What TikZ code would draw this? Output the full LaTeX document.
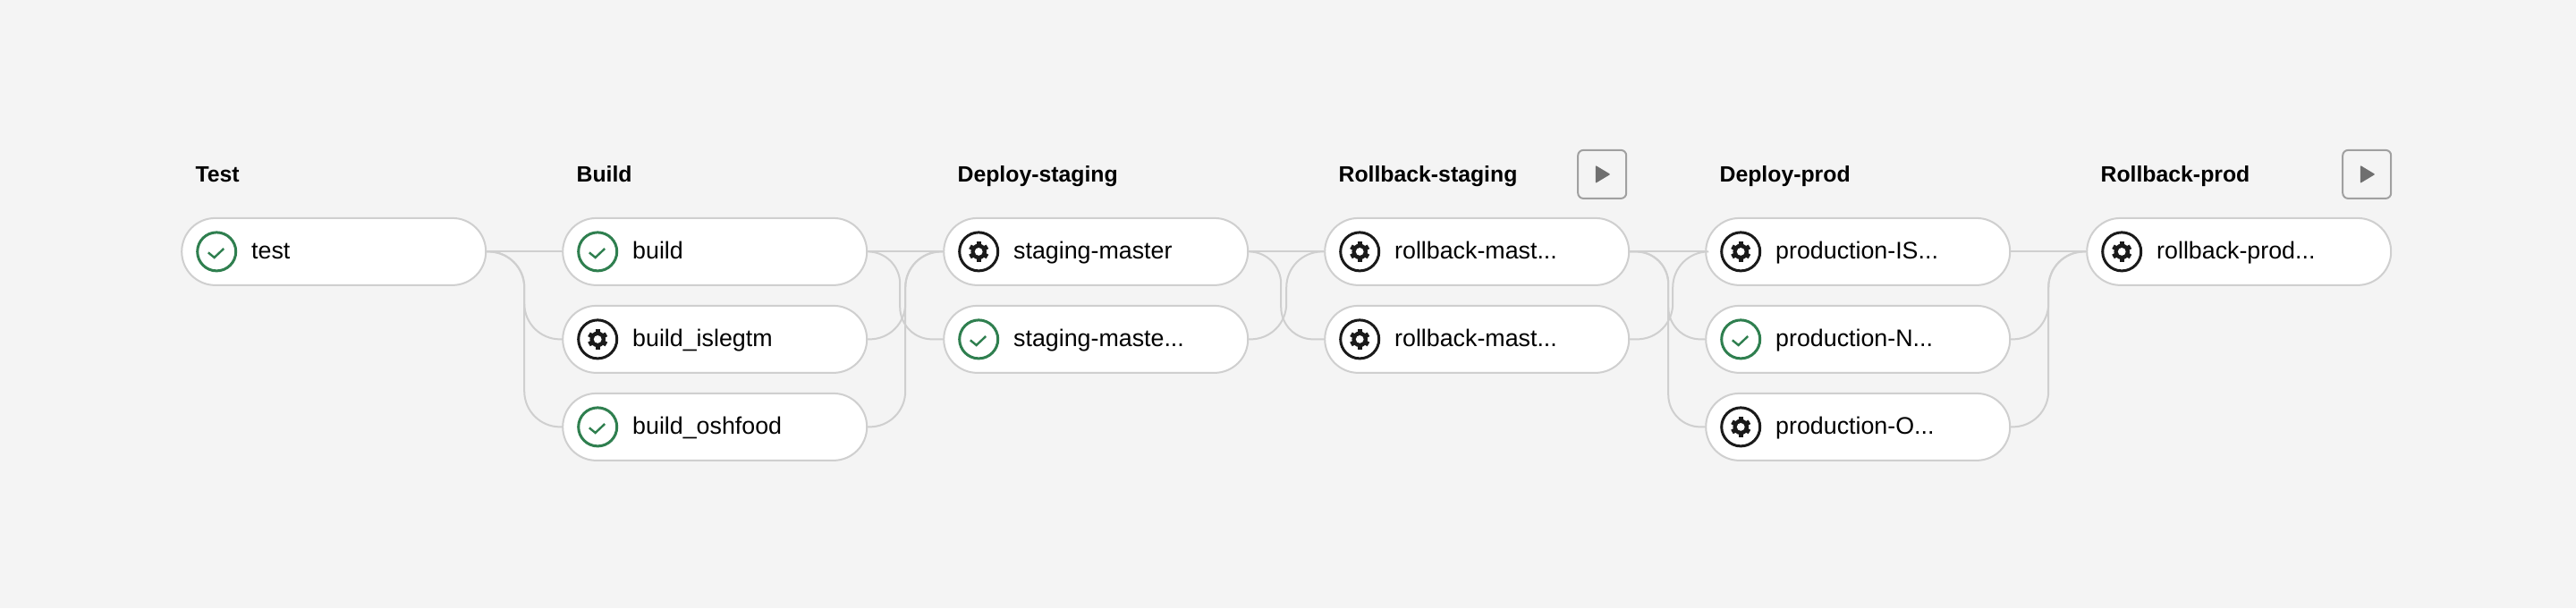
\documentclass[tikz,border=0pt]{standalone}
\usepackage{fontspec}
\setmainfont{Liberation Sans}
\usetikzlibrary{positioning}
\definecolor{pagebg}{HTML}{F4F4F4}
\definecolor{linegray}{HTML}{CFCFCF}
\definecolor{passgreen}{HTML}{2F7F4F}
\definecolor{rundark}{HTML}{1A1A1A}
\definecolor{playgray}{HTML}{6F6F6F}
\definecolor{boxgray}{HTML}{A0A0A0}

\tikzset{
    jobpill/.style={draw=linegray, fill=white, line width=1pt, rounded corners=18.7pt, minimum height=37.5pt,
        text width=122pt, inner xsep=24pt, inner ysep=0pt, text height=10.4pt, text depth=2pt, align=left,
        execute at begin node=\hspace*{15pt},
        font=\fontsize{13.4pt}{16pt}\selectfont},
    stagelabel/.style={anchor=base west, inner sep=0pt, font=\fontsize{12.4pt}{16pt}\selectfont\bfseries},
    passicon/.style={circle, draw=passgreen, fill=white, line width=1.5pt, minimum size=21.5pt, inner sep=0pt,
        path picture={
            \draw[passgreen, line width=1.2pt] ([shift={(-4.7pt,-.5pt)}]path picture bounding box.center)
                -- ++(3.4pt,-2.8pt) -- ++(5.3pt,5pt);
        }},
    runicon/.style={circle, draw=rundark, fill=white, line width=1.5pt, minimum size=21.5pt, inner sep=0pt,
        path picture={
            \foreach \ang in {30,90,...,330} {
                \draw[rundark, line width=2.6pt] (path picture bounding box.center) -- ++(\ang:5.6pt);
            }
            \fill[rundark] (path picture bounding box.center) circle (4.4pt);
            \fill[white] (path picture bounding box.center) circle (2.2pt);
        }},
    playbox/.style={draw=boxgray, fill=pagebg, line width=1pt, rounded corners=3pt, minimum size=27pt, inner sep=0pt,
        path picture={
            \fill[playgray, rounded corners=.5pt] ([shift={(-3.7pt,5pt)}]path picture bounding box.center)
                -- ++(8.3pt,-5pt) -- ++(-8.3pt,-5pt) -- cycle;
        }},
    link/.style={draw=linegray, line width=1pt, rounded corners=20pt},
    linkout/.style={draw=linegray, line width=1pt, rounded corners=18pt}
}

\begin{document}
\begin{tikzpicture}[node distance=10.5pt and 42pt]

    \fill[pagebg] (0,0) rectangle (1440pt,340pt);
    \useasboundingbox (0,0) rectangle (1440pt,340pt);

    % Nodes
    \node (test) [jobpill] at (186.6pt,199.3pt) {test};
    \node (build) [jobpill, right=of test] {build};
    \node (islegtm) [jobpill, below=of build] {build\_islegtm};
    \node (oshfood) [jobpill, below=of islegtm] {build\_oshfood};
    \node (master) [jobpill, right=of build] {staging-master};
    \node (maste) [jobpill, below=of master] {staging-maste...};
    \node (rollone) [jobpill, right=of master] {rollback-mast...};
    \node (rolltwo) [jobpill, below=of rollone] {rollback-mast...};
    \node (prodis) [jobpill, right=of rollone] {production-IS...};
    \node (prodn) [jobpill, below=of prodis] {production-N...};
    \node (prodo) [jobpill, below=of prodn] {production-O...};
    \node (rollprod) [jobpill, right=of prodis] {rollback-prod...};

    % Icons
    \node (testicon) [passicon, right=8.5pt of test.west] {};
    \node (buildicon) [passicon, right=8.5pt of build.west] {};
    \node (islegtmicon) [runicon, right=8.5pt of islegtm.west] {};
    \node (oshfoodicon) [passicon, right=8.5pt of oshfood.west] {};
    \node (mastericon) [runicon, right=8.5pt of master.west] {};
    \node (masteicon) [passicon, right=8.5pt of maste.west] {};
    \node (rolloneicon) [runicon, right=8.5pt of rollone.west] {};
    \node (rolltwoicon) [runicon, right=8.5pt of rolltwo.west] {};
    \node (prodisicon) [runicon, right=8.5pt of prodis.west] {};
    \node (prodnicon) [passicon, right=8.5pt of prodn.west] {};
    \node (prodoicon) [runicon, right=8.5pt of prodo.west] {};
    \node (rollprodicon) [runicon, right=8.5pt of rollprod.west] {};

    % Stage titles
    \node (testtitle) [stagelabel] at ([shift={(8pt,19.5pt)}]test.north west) {Test};
    \node (buildtitle) [stagelabel] at ([shift={(8pt,19.5pt)}]build.north west) {Build};
    \node (stagingtitle) [stagelabel] at ([shift={(8pt,19.5pt)}]master.north west) {Deploy-staging};
    \node (rollstagingtitle) [stagelabel] at ([shift={(8pt,19.5pt)}]rollone.north west) {Rollback-staging};
    \node (prodtitle) [stagelabel] at ([shift={(8pt,19.5pt)}]prodis.north west) {Deploy-prod};
    \node (rollprodtitle) [stagelabel] at ([shift={(8pt,19.5pt)}]rollprod.north west) {Rollback-prod};

    % Play buttons
    \node (playstaging) [playbox, above left=10pt and 1.5pt of rollone.north east] {};
    \node (playprod) [playbox, above left=10pt and 0pt of rollprod.north east] {};

    % Edges
    \draw[link] (test.east) -- (build.west);
    \draw[link] (test.east) -| ([xshift=-21pt]islegtm.west) -- (islegtm.west);
    \draw[link] (test.east) -| ([xshift=-21pt]oshfood.west) -- (oshfood.west);

    \draw[link] (build.east) -- (master.west);
    \draw[linkout] (build.east) -| ([xshift=-24pt]maste.west) -- (maste.west);
    \draw[link] (islegtm.east) -| ([xshift=-21pt]master.west) -- (master.west);
    \draw[link] (oshfood.east) -| ([xshift=-21pt]master.west) -- (master.west);

    \draw[link] (master.east) -- (rollone.west);
    \draw[linkout] (master.east) -| ([xshift=-24pt]rolltwo.west) -- (rolltwo.west);
    \draw[link] (maste.east) -| ([xshift=-21pt]rollone.west) -- (rollone.west);

    \draw[link] (rollone.east) -- (prodis.west);
    \draw[linkout] (rollone.east) -| ([xshift=-20.5pt]prodn.west) -- (prodn.west);
    \draw[linkout] (rollone.east) -| ([xshift=-20.5pt]prodo.west) -- (prodo.west);
    \draw[link] (rolltwo.east) -| ([xshift=-18pt]prodis.west) -- (prodis.west);

    \draw[link] (prodis.east) -- (rollprod.west);
    \draw[link] (prodn.east) -| ([xshift=-21pt]rollprod.west) -- (rollprod.west);
    \draw[link] (prodo.east) -| ([xshift=-21pt]rollprod.west) -- (rollprod.west);

\end{tikzpicture}
\end{document}
